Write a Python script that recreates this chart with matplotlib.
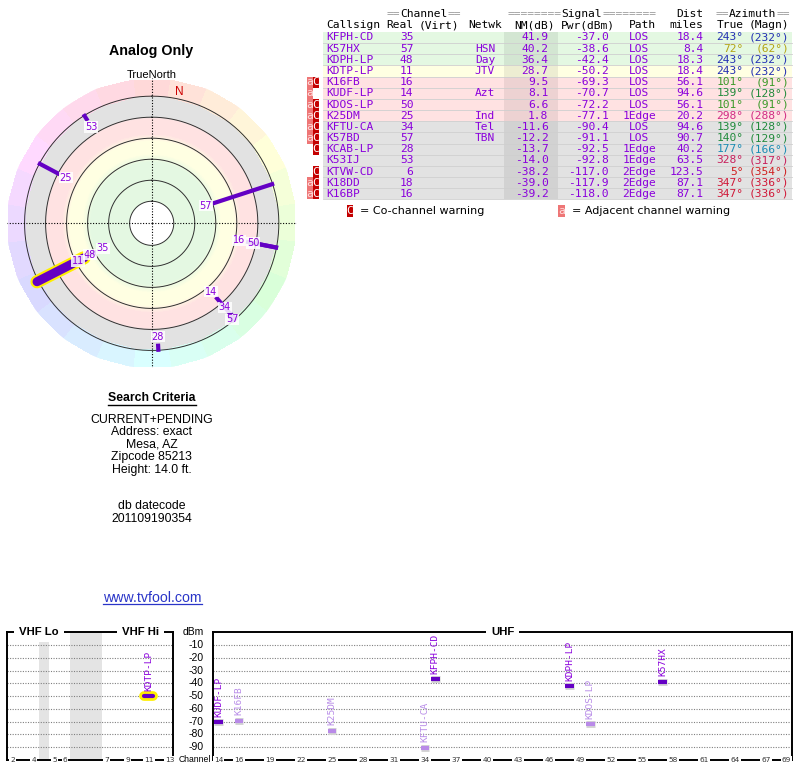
import numpy as np
import matplotlib
matplotlib.use("Agg")
import matplotlib.pyplot as plt
import matplotlib.patheffects as pe
from matplotlib.patches import Rectangle
from matplotlib.colors import hsv_to_rgb, LinearSegmentedColormap, ListedColormap, Normalize
from matplotlib.transforms import blended_transform_factory

# ---------------- data ----------------
callsigns = ["KFPH-CD", "K57HX", "KDPH-LP", "KDTP-LP", "K16FB", "KUDF-LP", "KDOS-LP",
             "K25DM", "KFTU-CA", "K57BD", "KCAB-LP", "K53IJ", "KTVW-CD", "K18DD", "K16BP"]
real_ch = [35, 57, 48, 11, 16, 14, 50, 25, 34, 57, 28, 53, 6, 18, 16]
networks = ["", "HSN", "Day", "JTV", "", "Azt", "", "Ind", "Tel", "TBN", "", "", "", "", ""]
nm_db = [41.9, 40.2, 36.4, 28.7, 9.5, 8.1, 6.6, 1.8, -11.6, -12.2, -13.7, -14.0, -38.2, -39.0, -39.2]
pwr_dbm = [-37.0, -38.6, -42.4, -50.2, -69.3, -70.7, -72.2, -77.1, -90.4, -91.1, -92.5, -92.8,
           -117.0, -117.9, -118.0]
paths = ["LOS", "LOS", "LOS", "LOS", "LOS", "LOS", "LOS", "1Edge", "LOS", "LOS", "1Edge", "1Edge",
         "2Edge", "2Edge", "2Edge"]
dist_mi = [18.4, 8.4, 18.3, 18.4, 56.1, 94.6, 56.1, 20.2, 94.6, 90.7, 40.2, 63.5, 123.5, 87.1, 87.1]
az_true = [243, 72, 243, 243, 101, 139, 101, 298, 139, 140, 177, 328, 5, 347, 347]
az_magn = [232, 62, 232, 232, 91, 128, 91, 288, 128, 129, 166, 317, 354, 336, 336]
adj_warn = [0, 0, 0, 0, 1, 1, 1, 1, 1, 1, 0, 0, 0, 1, 1]
co_warn = [0, 0, 0, 0, 1, 0, 1, 1, 1, 1, 1, 0, 1, 1, 1]
analog = [0, 0, 0, 1, 0, 0, 0, 0, 0, 0, 0, 0, 0, 0, 0]

criteria_lines = ["CURRENT+PENDING", "Address: exact", "Mesa, AZ", "Zipcode 85213", "Height: 14.0 ft."]
datecode_lines = ["db datecode", "201109190354"]

vhf_ticks = [2, 4, 5, 6, 7, 9, 11, 13]
uhf_ticks = [14, 16, 19, 22, 25, 28, 31, 34, 37, 40, 43, 46, 49, 52, 55, 58, 61, 64, 67, 69]
dbm_ticks = [-10, -20, -30, -40, -50, -60, -70, -80, -90]

# ---------------- styles ----------------
PURPLE = "#8a00dc"
LINE_PURPLE = "#6400c4"
LIGHT_PURPLE = "#b98ae8"
AZ_COLORS = {243: "#2430b4", 72: "#b4a414", 101: "#3c9a2a", 139: "#228a3c", 140: "#228a3c",
             177: "#1a8cb4", 298: "#d02c84", 328: "#c8205c", 5: "#d02020", 347: "#d01838"}
ROW_GREEN, ROW_YELLOW, ROW_PINK, ROW_GRAY = "#e4f8e2", "#ffffe2", "#ffe2e2", "#e2e2e2"
MONO = "DejaVu Sans Mono"
SANS = "Liberation Sans"

W, H = 800, 768
fig = plt.figure(figsize=(W / 100, H / 100), dpi=100)
ax0 = fig.add_axes([0, 0, 1, 1], zorder=-1)
ax0.set_xlim(0, W)
ax0.set_ylim(H, 0)
ax0.axis("off")


def row_color(nm):
    if nm >= 35:
        return ROW_GREEN
    if nm >= 15:
        return ROW_YELLOW
    if nm >= 0:
        return ROW_PINK
    return ROW_GRAY


# ---------------- table ----------------
FS = 8.1
CW = 0.602 * FS * 100 / 72  # monospace char width in px


def mono_segments(segs, cx, y):
    n = sum(len(s) for s, _ in segs)
    x = cx - n * CW / 2
    for s, c in segs:
        ax0.text(x, y, s, family=MONO, fontsize=FS, color=c, ha="left", va="center")
        x += len(s) * CW


G = "#9a9a9a"
mono_segments([("==", G), ("Channel", "black"), ("==", G)], 423.7, 14)
mono_segments([("========", G), ("Signal", "black"), ("========", G)], 581.7, 14)
mono_segments([("==", G), ("Azimuth", "black"), ("==", G)], 753, 14)
ax0.text(703.3, 14, "Dist", family=MONO, fontsize=FS, ha="right", va="center")
hy = 25.5
for txt, x, ha in [("Callsign", 326.7, "left"), ("Real", 413.3, "right"), ("(Virt)", 418.3, "left"),
                   ("Netwk", 468.3, "left"), ("NM(dB)", 555, "right"), ("Pwr(dBm)", 615, "right"),
                   ("Path", 642.5, "center"), ("miles", 703.3, "right"), ("True", 743.3, "right"),
                   ("(Magn)", 789.3, "right")]:
    ax0.text(x, hy, txt, family=MONO, fontsize=FS, ha=ha, va="center")

ROW0, ROWH = 37.5, 11.17
for i, cs in enumerate(callsigns):
    y = ROW0 + i * ROWH
    ax0.add_patch(Rectangle((323, y - ROWH / 2), 469, ROWH, fc=row_color(nm_db[i]), ec="none"))
    ax0.add_patch(Rectangle((504, y - ROWH / 2), 54, ROWH, fc="black", alpha=0.07, ec="none"))
    ax0.plot([323, 792], [y + ROWH / 2] * 2, color="#cfcfcf", lw=0.6)
    if adj_warn[i]:
        ax0.add_patch(Rectangle((306.5, y - ROWH / 2), 6.2, ROWH, fc="#ee7676", ec="none"))
        ax0.text(309.6, y, "a", family=MONO, fontsize=FS, color="#ffdede", ha="center", va="center")
    if co_warn[i]:
        ax0.add_patch(Rectangle((312.7, y - ROWH / 2), 6.6, ROWH, fc="#c40000", ec="none"))
        ax0.text(316.0, y, "C", family=MONO, fontsize=FS, color="white", ha="center", va="center")
    kw = dict(family=MONO, fontsize=FS, va="center", color=PURPLE)
    ax0.text(326.7, y, cs, ha="left", **kw)
    ax0.text(413.3, y, str(real_ch[i]), ha="right", **kw)
    ax0.text(485, y, networks[i], ha="center", **kw)
    ax0.text(548.3, y, f"{nm_db[i]:.1f}", ha="right", **kw)
    ax0.text(608.3, y, f"{pwr_dbm[i]:.1f}", ha="right", **kw)
    ax0.text(639.5, y, paths[i], ha="center", **kw)
    ax0.text(703.3, y, f"{dist_mi[i]:.1f}", ha="right", **kw)
    ac = AZ_COLORS[az_true[i]]
    ax0.text(743.3, y, f"{az_true[i]}°", ha="right", family=MONO, fontsize=FS, va="center", color=ac)
    ax0.text(789.3, y, f"({az_magn[i]}°)", ha="right", family=MONO, fontsize=FS, va="center", color=ac)

# legend
ly = 211
ax0.add_patch(Rectangle((346.7, ly - 6), 6.6, 12, fc="#c40000", ec="none"))
ax0.text(350, ly, "C", family=MONO, fontsize=FS, color="white", ha="center", va="center")
ax0.text(360, ly, "= Co-channel warning", family="DejaVu Sans", fontsize=8, ha="left", va="center")
ax0.add_patch(Rectangle((558.3, ly - 6), 6.6, 12, fc="#ee7676", ec="none"))
ax0.text(561.6, ly, "a", family=MONO, fontsize=FS, color="#ffdede", ha="center", va="center")
ax0.text(571.7, ly, "= Adjacent channel warning", family="DejaVu Sans", fontsize=8, ha="left", va="center")

# ---------------- titles / criteria ----------------
ax0.text(151.5, 51, "Analog Only", family=SANS, fontweight="bold", fontsize=10.3, ha="center", va="center")
ax0.text(151.7, 74.5, "TrueNorth", family=SANS, fontsize=8, ha="center", va="center")
ax0.text(151.7, 398.3, "Search Criteria", family=SANS, fontweight="bold", fontsize=8.8, ha="center", va="center")
ax0.plot([108, 195.5], [404.6, 404.6], color="black", lw=1)
for k, s in enumerate(criteria_lines):
    ax0.text(151.7, 420 + k * 12.4, s, family=SANS, fontsize=8.8, ha="center", va="center")
for k, s in enumerate(datecode_lines):
    ax0.text(151.7, 506 + k * 12.6, s, family=SANS, fontsize=8.8, ha="center", va="center")
ax0.text(152.2, 598, "www.tvfool.com", family=SANS, fontsize=10.2, color="#2a35c8", ha="center", va="center")
ax0.plot([102.7, 201.7], [604.3, 604.3], color="#2a35c8", lw=0.9)

# ---------------- polar radar ----------------
cx, cy, R = 151.7, 223.3, 145
NM_CENTER, NM_EDGE = 101.0, -37.0
PX_PER_DB = R / (NM_CENTER - NM_EDGE)
axp = fig.add_axes([(cx - R) / W, 1 - (cy + R) / H, 2 * R / W, 2 * R / H], projection="polar")
axp.set_theta_zero_location("N")
axp.set_theta_direction(-1)
axp.set_ylim(NM_CENTER, NM_EDGE)
axp.set_xticks([])
axp.set_yticks([])
axp.grid(False)
axp.spines["polar"].set_visible(False)
axp.patch.set_alpha(0)

# radial band gradient
stops = [(-20, ROW_GRAY), (-0.8, ROW_GRAY), (1.5, ROW_PINK), (16, ROW_PINK), (23, ROW_YELLOW),
         (35, ROW_YELLOW), (43, ROW_GREEN), (80, ROW_GREEN)]
lo, hi = -20, 80
band_cmap = LinearSegmentedColormap.from_list("bands", [((v - lo) / (hi - lo), c) for v, c in stops])
th_edges = np.linspace(0, 2 * np.pi, 361)
r_edges = np.linspace(-20, 80, 201)
Z = 0.5 * (r_edges[:-1] + r_edges[1:])
Z = np.tile(Z[:, None], (1, len(th_edges) - 1))
axp.pcolormesh(th_edges, r_edges, Z, cmap=band_cmap, norm=Normalize(lo, hi), shading="flat",
               antialiased=False, rasterized=False)

# azimuth hue ring
wedge_edges = np.deg2rad(np.arange(-7.5, 360, 15))
hue_cols = [hsv_to_rgb((k * 15 / 360.0, 0.15, 1.0)) for k in range(24)]
hue_cmap = ListedColormap(hue_cols)
ring_r = np.array([-37, -20])
Zh = np.arange(24)[None, :].astype(float)
axp.pcolormesh(wedge_edges, ring_r, Zh, cmap=hue_cmap, norm=Normalize(-0.5, 23.5), shading="flat",
               antialiased=False)

full = np.linspace(0, 2 * np.pi, 400)
for ring in [80, 60, 40, 20, 0, -20]:
    axp.plot(full, np.full_like(full, ring), color="#303030", lw=0.7)
for ang in [0, 90, 180, 270]:
    t = np.deg2rad(ang)
    axp.plot([t, t], [NM_CENTER, NM_EDGE], color="black", lw=0.8, ls=(0, (1, 1.5)))

axp.text(np.deg2rad(12), -27, "N", color="#cc0000", family=SANS, fontsize=8.5, ha="center", va="center")

LINE_END = -21.5
shown = [i for i in range(len(callsigns)) if nm_db[i] >= -20]
for i in shown:
    if analog[i]:
        continue
    t = np.deg2rad(az_true[i])
    axp.plot([t, t], [nm_db[i], LINE_END], color=LINE_PURPLE, lw=3, solid_capstyle="butt")
for i in shown:
    if not analog[i]:
        continue
    t = np.deg2rad(az_true[i])
    axp.plot([t, t], [nm_db[i], LINE_END], color=LINE_PURPLE, lw=6.5, solid_capstyle="round",
             path_effects=[pe.Stroke(linewidth=9.5, foreground="#ffee00"), pe.Normal()])

# labels with simple collision avoidance along the same azimuth
placed = []
for i in sorted(shown, key=lambda k: -nm_db[k]):
    start_px = (NM_CENTER - nm_db[i]) * PX_PER_DB
    lab = start_px - 7
    for a, rp in placed:
        if abs(a - az_true[i]) <= 3 and abs(lab - rp) < 14:
            lab = rp + 14
    placed.append((az_true[i], lab))
    axp.text(np.deg2rad(az_true[i]), NM_CENTER - lab / PX_PER_DB, str(real_ch[i]), color=PURPLE,
             family="DejaVu Sans", fontsize=7, ha="center", va="center", zorder=5,
             bbox=dict(boxstyle="square,pad=0.08", fc="white", ec="none", alpha=0.85))

# ---------------- spectrum panels ----------------
Y_TOP, Y_BOT = 632.3, 759.8


def make_panel(x0, x1, xlim):
    ax = fig.add_axes([x0 / W, 1 - Y_BOT / H, (x1 - x0) / W, (Y_BOT - Y_TOP) / H])
    ax.set_xlim(*xlim)
    ax.set_ylim(-100, 0)
    ax.set_xticks([])
    ax.set_yticks([])
    for s in ax.spines.values():
        s.set_linewidth(1.4)
    for v in dbm_ticks:
        ax.axhline(v, color="#808080", lw=0.8, ls=(0, (1, 1.3)), zorder=1)
    return ax


def vhf_slot(ch):
    ch = np.asarray(ch)
    return np.where(ch <= 4, ch - 2, np.where(ch <= 6, ch - 1, ch + 2))


axv = make_panel(7.3, 172.7, (-0.52, 15.3))
axu = make_panel(213.3, 791.7, (13.5, 69.5))
axv.axvspan(2.5, 3.5, color="#e4e4e4", zorder=0, lw=0)
axv.axvspan(5.5, 8.5, color="#e4e4e4", zorder=0, lw=0)

tb = dict(boxstyle="square,pad=0.15", fc="white", ec="none")
for ch in vhf_ticks:
    axv.text(float(vhf_slot(ch)), -100, str(ch), fontsize=5.3, color="#333333", ha="center", va="center",
             bbox=tb, clip_on=False, zorder=6)
for ch in uhf_ticks:
    axu.text(ch, -100, str(ch), fontsize=5.3, color="#333333", ha="center", va="center",
             bbox=tb, clip_on=False, zorder=6)

ttl = dict(family=SANS, fontweight="bold", fontsize=8.2, ha="center", va="center", clip_on=False,
           zorder=6, bbox=dict(boxstyle="square,pad=0.45", fc="white", ec="none"))
axv.text(0.19, 1.0, "VHF Lo", transform=axv.transAxes, **ttl)
axv.text(0.805, 1.0, "VHF Hi", transform=axv.transAxes, **ttl)
axu.text(0.5, 1.0, "UHF", transform=axu.transAxes, **ttl)

bt = blended_transform_factory(axv.transAxes, axv.transData)
for v in dbm_ticks:
    axv.text(1.186, v, str(v), transform=bt, family=SANS, fontsize=7.5, ha="right", va="center", clip_on=False)
axv.text(1.124, 0, "dBm", transform=bt, family=SANS, fontsize=7.5, ha="center", va="center", clip_on=False)
axv.text(1.132, -100, "Channel", transform=bt, family=SANS, fontsize=6.2, ha="center", va="center",
         clip_on=False)

for i, cs in enumerate(callsigns):
    if pwr_dbm[i] < -91:
        continue
    if real_ch[i] <= 13:
        ax, x = axv, float(vhf_slot(real_ch[i]))
    else:
        ax, x = axu, real_ch[i]
    light = bool(co_warn[i])
    bar_c = LIGHT_PURPLE if light else LINE_PURPLE
    txt_c = "#b88ce8" if light else PURPLE
    if analog[i]:
        effects = [pe.Stroke(linewidth=7, foreground="#ffee00"), pe.Normal()]
        cap = "round"
    else:
        effects = [pe.Stroke(linewidth=5, foreground="#d4d4d4"), pe.Normal()]
        cap = "butt"
    ax.plot([x - 0.42, x + 0.42], [pwr_dbm[i], pwr_dbm[i]], color=bar_c, lw=3, solid_capstyle=cap,
            path_effects=effects, zorder=4)
    ax.annotate(cs, (x, pwr_dbm[i]), xytext=(0, 4), textcoords="offset points", rotation=90,
                ha="center", va="bottom", family=MONO, fontsize=6.8, color=txt_c, zorder=5,
                annotation_clip=False)

fig.savefig("out.png", dpi=100)
